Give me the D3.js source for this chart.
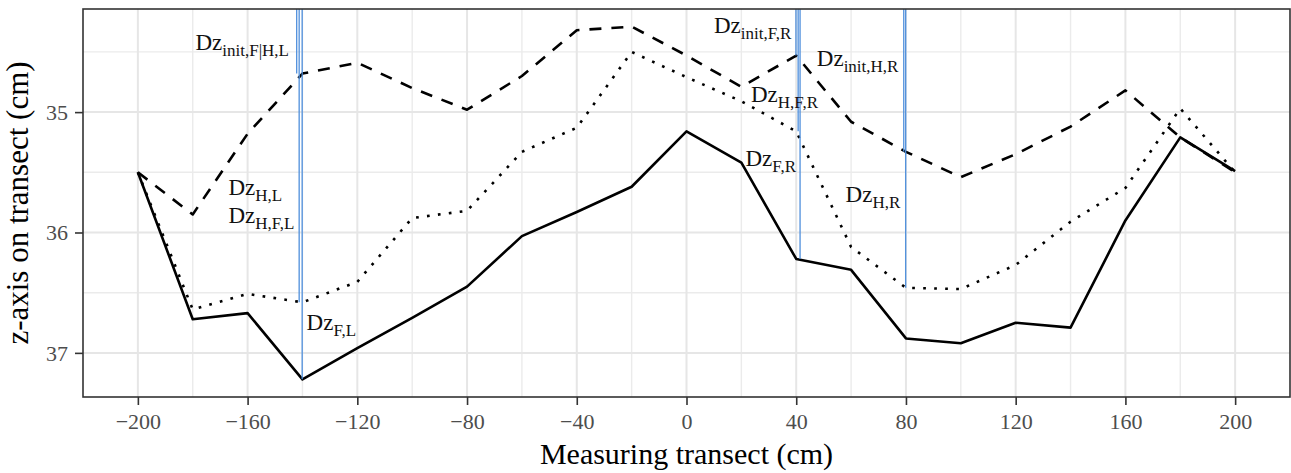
<!DOCTYPE html>
<html>
<head>
<meta charset="utf-8">
<script src="https://cdn.jsdelivr.net/npm/d3@7"></script>
<style>
  body { margin: 0; background: #fff; }
  text { font-family: "Liberation Serif", "Times New Roman", serif; }
</style>
</head>
<body>
<div id="chart"></div>
<script>
// transect positions (cm)
var positions = [-200, -180, -160, -140, -120, -100, -80, -60, -40, -20, 0,
                 20, 40, 60, 80, 100, 120, 140, 160, 180, 200];

// z values (cm)
var zFinal = [35.5, 36.72, 36.67, 37.22, 36.96, 36.71, 36.45, 36.03, 35.83, 35.62, 35.16,
              35.42, 36.22, 36.31, 36.88, 36.92, 36.75, 36.79, 35.90, 35.21, 35.49];   // solid
var zHarvest = [35.5, 36.64, 36.51, 36.58, 36.41, 35.88, 35.82, 35.33, 35.13, 34.50, 34.71,
                34.91, 35.16, 36.12, 36.46, 36.47, 36.27, 35.91, 35.63, 34.97, 35.5];  // dotted
var zInit = [35.5, 35.85, 35.18, 34.68, 34.59, 34.80, 34.98, 34.70, 34.32, 34.29, 34.53,
             34.79, 34.53, 35.08, 35.33, 35.54, 35.35, 35.12, 34.82, 35.21, 35.5];     // dashed

// blue marker segments: x position and the z value they run down to
var segX = [-142.1, -141.2, -140.1, 39.9, 40.7, 41.4, 79.2, 79.9];
var segZ = [34.68, 36.58, 37.22, 34.53, 35.16, 36.22, 35.33, 36.46];

// annotation labels "Dz" + subscript
var labSub = ["init,F|H,L", "H,L", "H,F,L", "F,L", "init,F,R", "init,H,R", "H,F,R", "F,R", "H,R"];
var labX = [-179, -167, -167, -138.5, 10, 47.5, 23.5, 21.5, 58];
var labZ = [34.48, 35.69, 35.92, 36.81, 34.34, 34.62, 34.92, 35.45, 35.75];

var xTicks = [-200, -160, -120, -80, -40, 0, 40, 80, 120, 160, 200];
var xMinor = [-180, -140, -100, -60, -20, 20, 60, 100, 140, 180];
var yTicks = [35, 36, 37];
var yMinor = [34.5, 35.5, 36.5];

var W = 1291, H = 473;
var margin = {top: 9, right: 1, bottom: 76, left: 83};
var width = W - margin.left - margin.right;
var height = H - margin.top - margin.bottom;

// ggplot style 5% expansion
function expand(ext) {
	var d = (ext[1] - ext[0]) * 0.05;
	return [ext[0] - d, ext[1] + d];
}
var allZ = zFinal.concat(zHarvest, zInit);

var x = d3.scaleLinear()
	.domain(expand(d3.extent(positions)))
	.range([0, width]);
var y = d3.scaleLinear()
	.domain(expand(d3.extent(allZ)))
	.range([0, height]);   // z-axis reversed: larger values lower

var svg = d3.select("#chart").append("svg")
	.attr("width", W)
	.attr("height", H);

var g = svg.append("g")
	.attr("transform", "translate(" + margin.left + "," + margin.top + ")");

// grid
g.selectAll(".vminor").data(xMinor).enter().append("line")
	.attr("x1", function(d) { return x(d); }).attr("x2", function(d) { return x(d); })
	.attr("y1", 0).attr("y2", height)
	.attr("stroke", "#ebebeb").attr("stroke-width", 1.4);
g.selectAll(".hminor").data(yMinor).enter().append("line")
	.attr("y1", function(d) { return y(d); }).attr("y2", function(d) { return y(d); })
	.attr("x1", 0).attr("x2", width)
	.attr("stroke", "#ebebeb").attr("stroke-width", 1.4);
g.selectAll(".vmajor").data(xTicks).enter().append("line")
	.attr("x1", function(d) { return x(d); }).attr("x2", function(d) { return x(d); })
	.attr("y1", 0).attr("y2", height)
	.attr("stroke", "#e6e6e6").attr("stroke-width", 2);
g.selectAll(".hmajor").data(yTicks).enter().append("line")
	.attr("y1", function(d) { return y(d); }).attr("y2", function(d) { return y(d); })
	.attr("x1", 0).attr("x2", width)
	.attr("stroke", "#e6e6e6").attr("stroke-width", 2);

// series
var line = d3.line()
	.x(function(d) { return x(d[0]); })
	.y(function(d) { return y(d[1]); });

function series(vals, dash) {
	g.append("path")
		.datum(d3.zip(positions, vals))
		.attr("d", line)
		.attr("fill", "none")
		.attr("stroke", "#000")
		.attr("stroke-width", 2.6)
		.attr("stroke-linejoin", "round")
		.attr("stroke-dasharray", dash);
}
series(zFinal, null);
series(zHarvest, "2.7,8.3");
series(zInit, "12,10");

// blue segments from the top of the panel
g.selectAll(".seg").data(d3.zip(segX, segZ)).enter().append("line")
	.attr("x1", function(d) { return x(d[0]); })
	.attr("x2", function(d) { return x(d[0]); })
	.attr("y1", 0)
	.attr("y2", function(d) { return y(d[1]); })
	.attr("stroke", "#4f8fdc")
	.attr("stroke-width", 1.3);

// labels
var lab = g.selectAll(".lab").data(d3.zip(labX, labZ, labSub)).enter().append("text")
	.attr("x", function(d) { return x(d[0]); })
	.attr("y", function(d) { return y(d[1]); })
	.attr("fill", "#111")
	.style("font-size", "23px");
lab.append("tspan").text("Dz");
lab.append("tspan")
	.attr("dy", 6)
	.style("font-size", "17px")
	.text(function(d) { return d[2]; });

// axes
var xAxis = g.append("g")
	.attr("transform", "translate(0," + height + ")")
	.call(d3.axisBottom(x).tickValues(xTicks).tickSize(8).tickSizeOuter(0));
xAxis.selectAll("text").attr("y", 32).attr("dy", 0);

var yAxis = g.append("g")
	.call(d3.axisLeft(y).tickValues(yTicks).tickFormat(d3.format("d")).tickSize(8).tickSizeOuter(0));
yAxis.selectAll("text").attr("x", -15).attr("dy", "0.34em");

[xAxis, yAxis].forEach(function(a) {
	a.select(".domain").remove();
	a.selectAll("line").attr("stroke", "#333").attr("stroke-width", 1.6);
	a.selectAll("text")
		.attr("fill", "#4d4d4d")
		.style("font-family", "Liberation Serif, serif")
		.style("font-size", "22px");
});

// panel border
g.append("rect")
	.attr("width", width).attr("height", height)
	.attr("fill", "none")
	.attr("stroke", "#333")
	.attr("stroke-width", 1.6);

// axis titles
svg.append("text")
	.attr("x", margin.left + width / 2)
	.attr("y", 464)
	.attr("text-anchor", "middle")
	.attr("fill", "#000")
	.style("font-size", "30px")
	.text("Measuring transect (cm)");

svg.append("text")
	.attr("transform", "translate(28," + (margin.top + height / 2) + ") rotate(-90)")
	.attr("text-anchor", "middle")
	.attr("fill", "#000")
	.style("font-size", "31px")
	.text("z-axis on transect (cm)");
</script>
</body>
</html>
